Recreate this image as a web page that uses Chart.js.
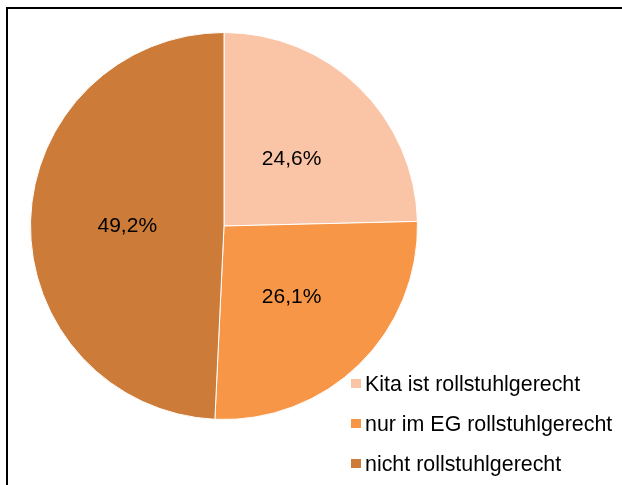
<!DOCTYPE html>
<html>
<head>
<meta charset="utf-8">
<script src="https://cdn.jsdelivr.net/npm/chart.js@4/dist/chart.umd.min.js"></script>
<style>
  body { margin: 0; background: #fff; }
  #wrap { position: relative; width: 622px; height: 485px; overflow: hidden; }
  #frame { position: absolute; left: 6px; top: 7px; width: 700px; height: 600px; border: 2px solid #000; box-sizing: border-box; }
  #pie { position: absolute; left: 0; top: 0; }
  .row { position: absolute; left: 351px; height: 24px; font: 21.4px "Liberation Sans", Arial, sans-serif; line-height: 24px; color: #000; white-space: nowrap; }
  .row span.box { position: absolute; left: 0; top: 7px; width: 10px; height: 9px; }
  .row span.txt { position: absolute; left: 14px; top: 0; }
</style>
</head>
<body>
<div id="wrap">
  <div id="frame"></div>
  <canvas id="pie" width="622" height="485"></canvas>
  <div id="legend"></div>
</div>
<script>
// categories and shares (percent)
const categories = ["Kita ist rollstuhlgerecht", "nur im EG rollstuhlgerecht", "nicht rollstuhlgerecht"];
const shares = [24.6, 26.1, 49.2];
const sliceColors = ["#FAC4A7", "#F79646", "#CC7B39"];

// percentage labels inside the slices
const sliceLabels = {
  id: "sliceLabels",
  afterDatasetsDraw(chart) {
    const ctx = chart.ctx;
    const meta = chart.getDatasetMeta(0);
    ctx.save();
    ctx.font = '21px "Liberation Sans", Arial, sans-serif';
    ctx.fillStyle = "#000";
    ctx.textAlign = "center";
    ctx.textBaseline = "middle";
    meta.data.forEach((arc, i) => {
      const p = arc.getProps(["x", "y", "startAngle", "endAngle", "outerRadius"], true);
      const mid = (p.startAngle + p.endAngle) / 2;
      const r = p.outerRadius * 0.5;
      const txt = shares[i].toFixed(1).replace(".", ",") + "%";
      ctx.fillText(txt, p.x + Math.cos(mid) * r, p.y + Math.sin(mid) * r + 2);
    });
    ctx.restore();
  }
};

new Chart(document.getElementById("pie"), {
  type: "pie",
  data: {
    labels: categories,
    datasets: [{
      data: shares,
      backgroundColor: sliceColors,
      borderColor: "#ffffff",
      borderWidth: 1
    }]
  },
  options: {
    responsive: false,
    animation: false,
    layout: {
      padding: { left: 30, top: 32, right: 204, bottom: 65 }
    },
    plugins: {
      legend: { display: false },
      tooltip: { enabled: false }
    }
  },
  plugins: [sliceLabels]
});

// legend bottom right
const legend = document.getElementById("legend");
categories.forEach((name, i) => {
  const row = document.createElement("div");
  row.className = "row";
  row.style.top = (372 + i * 40) + "px";
  const box = document.createElement("span");
  box.className = "box";
  box.style.background = sliceColors[i];
  const txt = document.createElement("span");
  txt.className = "txt";
  txt.textContent = name;
  row.appendChild(box);
  row.appendChild(txt);
  legend.appendChild(row);
});
</script>
</body>
</html>
